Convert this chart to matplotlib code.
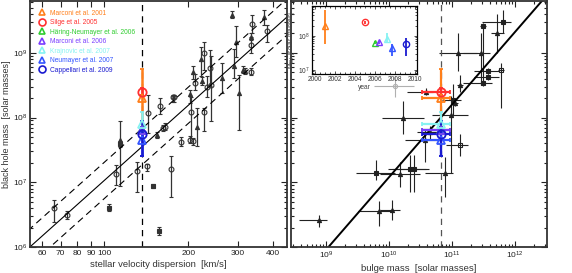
import numpy as np
import matplotlib
matplotlib.use("Agg")
import matplotlib.pyplot as plt
from matplotlib.lines import Line2D
from matplotlib.ticker import FixedLocator, NullLocator, NullFormatter, LogLocator, FixedFormatter

plt.rcParams["font.family"] = ["Liberation Sans", "DejaVu Sans"]
plt.rcParams["mathtext.fontset"] = "custom"
plt.rcParams["mathtext.rm"] = "Liberation Sans"
plt.rcParams["mathtext.it"] = "Liberation Sans:italic"

# published measurements for the one galaxy
ref_labels = ["Marconi et al. 2001", "Silge et al. 2005", "Häring-Neumayer et al. 2006",
              "Marconi et al. 2006", "Krajnovic et al. 2007", "Neumayer et al. 2007",
              "Cappellari et al. 2009"]
ref_years = [2001.0, 2005.0, 2006.0, 2006.4, 2007.2, 2007.7, 2009.1]
ref_logm = [8.30, 8.40, 7.80, 7.81, 7.90, 7.65, 7.75]
ref_up = [0.45, 0.05, 0.05, 0.05, 0.18, 0.12, 0.20]
ref_dn = [0.55, 0.05, 0.05, 0.05, 0.12, 0.25, 0.35]
ref_markers = ["^", "o", "^", "^", "^", "^", "o"]
ref_colors = ["#ff7f1a", "#ff3030", "#2fcc2f", "#7a3cff", "#86f2f2", "#3355ff", "#1a1ad0"]
ref_sigma = 137.0
ref_logmb = 10.83
ref_mb_lo = 0.31
ref_mb_hi = 0.14

# M-sigma sample
sig = [66, 74, 104, 110, 114, 114, 131, 142, 150, 157, 154, 174, 188, 203, 207,
       158, 162, 165, 143, 176, 178, 211, 208, 204, 215,
       287, 372, 338, 383, 295, 336, 335, 335, 313, 318, 290, 304, 264, 239, 228,
       221, 223, 234, 240, 227, 203]
sig_logm = [6.61, 6.49, 6.61, 7.12, 7.66, 7.59, 7.18, 7.25, 6.94, 6.25, 7.73, 7.21, 7.62, 7.66, 7.63,
            8.18, 7.84, 7.86, 8.07, 8.32, 8.32, 8.54, 8.70, 8.09, 7.86,
            9.59, 9.56, 9.45, 9.33, 9.17, 9.25, 9.12, 8.71, 8.74, 8.72, 8.79, 8.38, 8.61, 8.76, 8.99,
            8.90, 8.57, 8.47, 8.50, 8.09, 8.36]
sig_up = [0.11, 0.07, 0.05, 0.14, 0.28, 0.05, 0.13, 0.03, 0.03, 0.06, 0.05, 0.19, 0.08, 0.05, 0.05,
          0.12, 0.05, 0.05, 0.28, 0.03, 0.03, 0.14, 0.10, 0.23, 0.28,
          0.05, 0.10, 0.14, 0.10, 0.25, 0.05, 0.12, 0.05, 0.05, 0.05, 0.27, 0.28, 0.23, 0.28, 0.18,
          0.19, 0.06, 0.17, 0.45, 0.05, 0.06]
sig_dn = [0.23, 0.06, 0.05, 0.16, 0.72, 0.05, 0.33, 0.07, 0.03, 0.06, 0.05, 0.43, 0.06, 0.05, 0.05,
          0.13, 0.05, 0.05, 0.31, 0.08, 0.08, 0.11, 0.10, 0.41, 0.30,
          0.05, 0.13, 0.15, 0.16, 0.24, 0.05, 0.12, 0.05, 0.05, 0.05, 0.18, 0.58, 0.23, 0.28, 0.25,
          0.26, 0.06, 0.15, 0.56, 0.30, 0.14]
sig_mk = ["o", "o", "s", "o", "^", "s", "o", "o", "s", "s", "^", "o", "o", "o", "o",
          "o", "o", "o", "o", "o", "o", "o", "^", "o", "^",
          "^", "^", "o", "o", "^", "^", "o", "o", "^", "^", "^", "^", "^", "o", "o",
          "^", "^", "o", "o", "o", "^"]

# M-Mbulge sample
bul = [11.49, 11.81, 11.72, 11.46, 11.10, 11.57, 11.57, 11.49, 11.78, 11.13, 10.59, 11.02, 11.05,
       10.98, 11.13, 10.89, 10.65, 10.09, 10.22, 8.88, 9.79, 9.84, 10.04, 10.18, 10.33, 10.39, 10.57]
bul_logm = [9.41, 9.48, 9.30, 9.00, 9.00, 8.72, 8.63, 8.53, 8.74, 8.50, 8.40, 8.27, 8.23,
            8.04, 7.57, 7.15, 7.77, 8.48, 8.00, 6.41, 7.15, 6.56, 6.57, 7.12, 7.20, 7.20, 7.65]
bul_xlo = [0.05, 0.33, 0.10, 0.28, 0.31, 0.22, 0.22, 0.31, 0.05, 0.05, 0.30, 0.18, 0.05,
           0.30, 0.22, 0.32, 0.20, 0.33, 0.33, 0.32, 0.31, 0.33, 0.18, 0.33, 0.35, 0.35, 0.31]
bul_xhi = [0.05, 0.13, 0.10, 0.14, 0.29, 0.18, 0.18, 0.14, 0.05, 0.05, 0.10, 0.12, 0.05,
           0.27, 0.12, 0.13, 0.20, 0.30, 0.33, 0.13, 0.31, 0.20, 0.13, 0.31, 0.25, 0.25, 0.20]
bul_ylo = [0.85, 0.17, 0.30, 0.50, 0.28, 0.05, 0.05, 0.05, 0.60, 0.10, 0.05, 0.25, 0.05,
           0.90, 0.17, 0.38, 0.10, 0.17, 0.26, 0.10, 0.11, 0.24, 0.15, 0.20, 0.35, 0.35, 0.34]
bul_yhi = [0.05, 0.18, 0.30, 0.30, 0.30, 0.05, 0.05, 0.05, 0.10, 0.15, 0.05, 0.25, 0.05,
           0.30, 0.17, 0.24, 0.10, 0.16, 0.25, 0.09, 0.20, 0.15, 0.15, 0.20, 0.22, 0.22, 0.15]
bul_mk = ["s", "s", "^", "^", "^", "s", "s", "s", "S", "^", "^", "s", "^",
          "^", "S", "^", "^", "g", "^", "^", "s", "^", "^", "^", "s", "s", "^"]

ylim = (1e6, 10 ** 9.8)
dark = "#333333"


def style(ax, labels=True):
    ax.set_yscale("log")
    ax.set_ylim(*ylim)
    ax.yaxis.set_major_locator(LogLocator(base=10))
    ax.yaxis.set_minor_locator(LogLocator(base=10, subs=np.arange(2, 10)))
    ax.yaxis.set_minor_formatter(NullFormatter())
    if not labels:
        ax.yaxis.set_major_formatter(NullFormatter())
    ax.tick_params(which="both", direction="in", top=True, right=True, labelsize=6, width=0.8,
                   pad=2, colors="#222222")
    ax.tick_params(which="major", length=4.5)
    ax.tick_params(which="minor", length=2.5)
    for s in ax.spines.values():
        s.set_linewidth(1.3)
        s.set_color("#333333")


fig = plt.figure(figsize=(5.72, 2.73), dpi=100)
ax1 = fig.add_axes([30 / 572, 26 / 273, 257 / 572, 246 / 273])
ax2 = fig.add_axes([291 / 572, 26 / 273, 256 / 572, 246 / 273])

# left: M-sigma
sig = np.array(sig, float)
sig_logm = np.array(sig_logm)
sig_up = np.array(sig_up)
sig_dn = np.array(sig_dn)
mk = np.array(sig_mk)
m = 10 ** sig_logm
yerr = np.array([m - 10 ** (sig_logm - sig_dn), 10 ** (sig_logm + sig_up) - m])
ax1.errorbar(sig, m, yerr=yerr, fmt="none", ecolor=dark, elinewidth=0.9, capsize=1.3, capthick=0.8)
for k, kw in [("o", dict(mfc="none", ms=3.5)), ("^", dict(mfc=dark, ms=3)), ("s", dict(mfc=dark, ms=2.5))]:
    sel = mk == k
    ax1.plot(sig[sel], m[sel], ls="none", marker=k, mec=dark, mew=0.8, **kw)

xs = np.array([50, 500])
line = 8.19 + 3.87 * np.log10(xs / 200)
ax1.plot(xs, 10 ** line, color="black", lw=0.8)
ax1.plot(xs, 10 ** (line + 0.28), color="black", lw=0.8, dashes=(6, 4))
ax1.plot(xs, 10 ** (line - 0.28), color="black", lw=0.8, dashes=(6, 4))
ax1.axvline(ref_sigma, color="black", lw=0.9, dashes=(5, 4))

for i in range(len(ref_labels)):
    v = 10 ** ref_logm[i]
    e = [[v - 10 ** (ref_logm[i] - ref_dn[i])], [10 ** (ref_logm[i] + ref_up[i]) - v]]
    ax1.errorbar([ref_sigma], [v], yerr=e, fmt=ref_markers[i], color=ref_colors[i], mfc="none",
                 ms=6 if ref_markers[i] == "o" else 5.5, mew=1.3, elinewidth=1.8, capsize=1.5)

ax1.set_xscale("log")
ax1.set_xlim(54.4, 450)
xt = [60, 70, 80, 90, 100, 200, 300, 400]
ax1.xaxis.set_major_locator(FixedLocator(xt))
ax1.xaxis.set_major_formatter(FixedFormatter([str(t) for t in xt]))
ax1.xaxis.set_minor_locator(NullLocator())
style(ax1)
ax1.set_xlabel("stellar velocity dispersion  [km/s]", fontsize=6.8, color="#333333", labelpad=2)
ax1.set_ylabel("black hole mass  [solar masses]", fontsize=6.5, color="#333333", labelpad=1)

handles = [Line2D([], [], ls="none", marker=ref_markers[i], mfc="none", mec=ref_colors[i], mew=1.2,
                  ms=5) for i in range(len(ref_labels))]
ax1.legend(handles, ref_labels, loc="upper left", bbox_to_anchor=(0.035, 0.965), frameon=False,
           fontsize=4.8, labelcolor=ref_colors, handlelength=0.8, handletextpad=0.9,
           labelspacing=0.38, borderpad=0, borderaxespad=0)

# right: M-Mbulge
bul = np.array(bul)
bul_logm = np.array(bul_logm)
bk = np.array(bul_mk)
bx = 10 ** bul
by = 10 ** bul_logm
xerr = np.array([bx - 10 ** (bul - np.array(bul_xlo)), 10 ** (bul + np.array(bul_xhi)) - bx])
yerr = np.array([by - 10 ** (bul_logm - np.array(bul_ylo)), 10 ** (bul_logm + np.array(bul_yhi)) - by])
grey = bk == "g"
ax2.errorbar(bx[~grey], by[~grey], xerr=xerr[:, ~grey], yerr=yerr[:, ~grey], fmt="none", ecolor="#222222",
             elinewidth=0.8, capsize=0)
ax2.errorbar(bx[grey], by[grey], xerr=xerr[:, grey], yerr=yerr[:, grey], fmt="none", ecolor="#b0b0b0",
             elinewidth=0.8, capsize=0)
for k, kw in [("^", dict(marker="^", mfc="#222222", ms=3)), ("s", dict(marker="s", mfc="#222222", ms=2.5)),
              ("S", dict(marker="s", mfc="none", ms=3.5)), ("g", dict(marker="o", mfc="none", ms=3))]:
    sel = bk == k
    ax2.plot(bx[sel], by[sel], ls="none", mec="#b0b0b0" if k == "g" else "#222222", mew=0.8, **kw)

xb = np.array([1e8, 1e13])
ax2.plot(xb, 10 ** (8.20 + 1.12 * (np.log10(xb) - 11)), color="black", lw=1.4)
ax2.axvline(10 ** ref_logmb, color="#555555", lw=0.9, dashes=(5, 4))

for i in range(len(ref_labels)):
    v = 10 ** ref_logm[i]
    xv = 10 ** ref_logmb
    e = [[v - 10 ** (ref_logm[i] - ref_dn[i])], [10 ** (ref_logm[i] + ref_up[i]) - v]]
    ex = [[xv - 10 ** (ref_logmb - ref_mb_lo)], [10 ** (ref_logmb + ref_mb_hi) - xv]]
    ax2.errorbar([xv], [v], xerr=ex, yerr=e, fmt=ref_markers[i], color=ref_colors[i], mfc="none",
                 ms=6 if ref_markers[i] == "o" else 5.5, mew=1.3, elinewidth=1.6, capsize=1.5)

ax2.set_xscale("log")
ax2.set_xlim(10 ** 8.44, 10 ** 12.51)
ax2.xaxis.set_major_locator(LogLocator(base=10))
ax2.xaxis.set_minor_locator(LogLocator(base=10, subs=np.arange(2, 10)))
ax2.xaxis.set_minor_formatter(NullFormatter())
style(ax2, labels=False)
ax2.set_xlabel("bulge mass  [solar masses]", fontsize=6.8, color="#333333", labelpad=2)

# inset: mass vs publication year
ax3 = fig.add_axes([312 / 572, 199 / 273, 105 / 572, 68 / 273])
for i in range(len(ref_labels)):
    v = 10 ** ref_logm[i]
    e = [[v - 10 ** (ref_logm[i] - ref_dn[i])], [10 ** (ref_logm[i] + ref_up[i]) - v]]
    ax3.errorbar([ref_years[i]], [v], yerr=e, fmt=ref_markers[i], color=ref_colors[i], mfc="none",
                 ms=4.5, mew=1.0, elinewidth=1.3, capsize=0)
ax3.set_yscale("log")
ax3.set_ylim(10 ** 6.88, 10 ** 8.88)
ax3.set_xlim(1999.7, 2010.2)
ax3.set_xticks(np.arange(2000, 2011, 2))
ax3.xaxis.set_minor_locator(FixedLocator(np.arange(2000, 2011, 0.5)))
ax3.yaxis.set_minor_locator(LogLocator(base=10, subs=np.arange(2, 10)))
ax3.yaxis.set_minor_formatter(NullFormatter())
ax3.tick_params(which="both", direction="in", top=True, right=True, labelsize=4.8, width=0.6, pad=1.5,
                colors="#333333")
ax3.tick_params(which="major", length=2.5)
ax3.tick_params(which="minor", length=1.3)
for s in ax3.spines.values():
    s.set_linewidth(0.9)
ax3.set_xlabel("year", fontsize=4.8, color="#444444", labelpad=1)
ax3.set_ylabel("M$_{\\rm BH}$ [solar masses]", fontsize=4.8, color="#444444", labelpad=1)

fig.savefig("out.png", dpi=100)
